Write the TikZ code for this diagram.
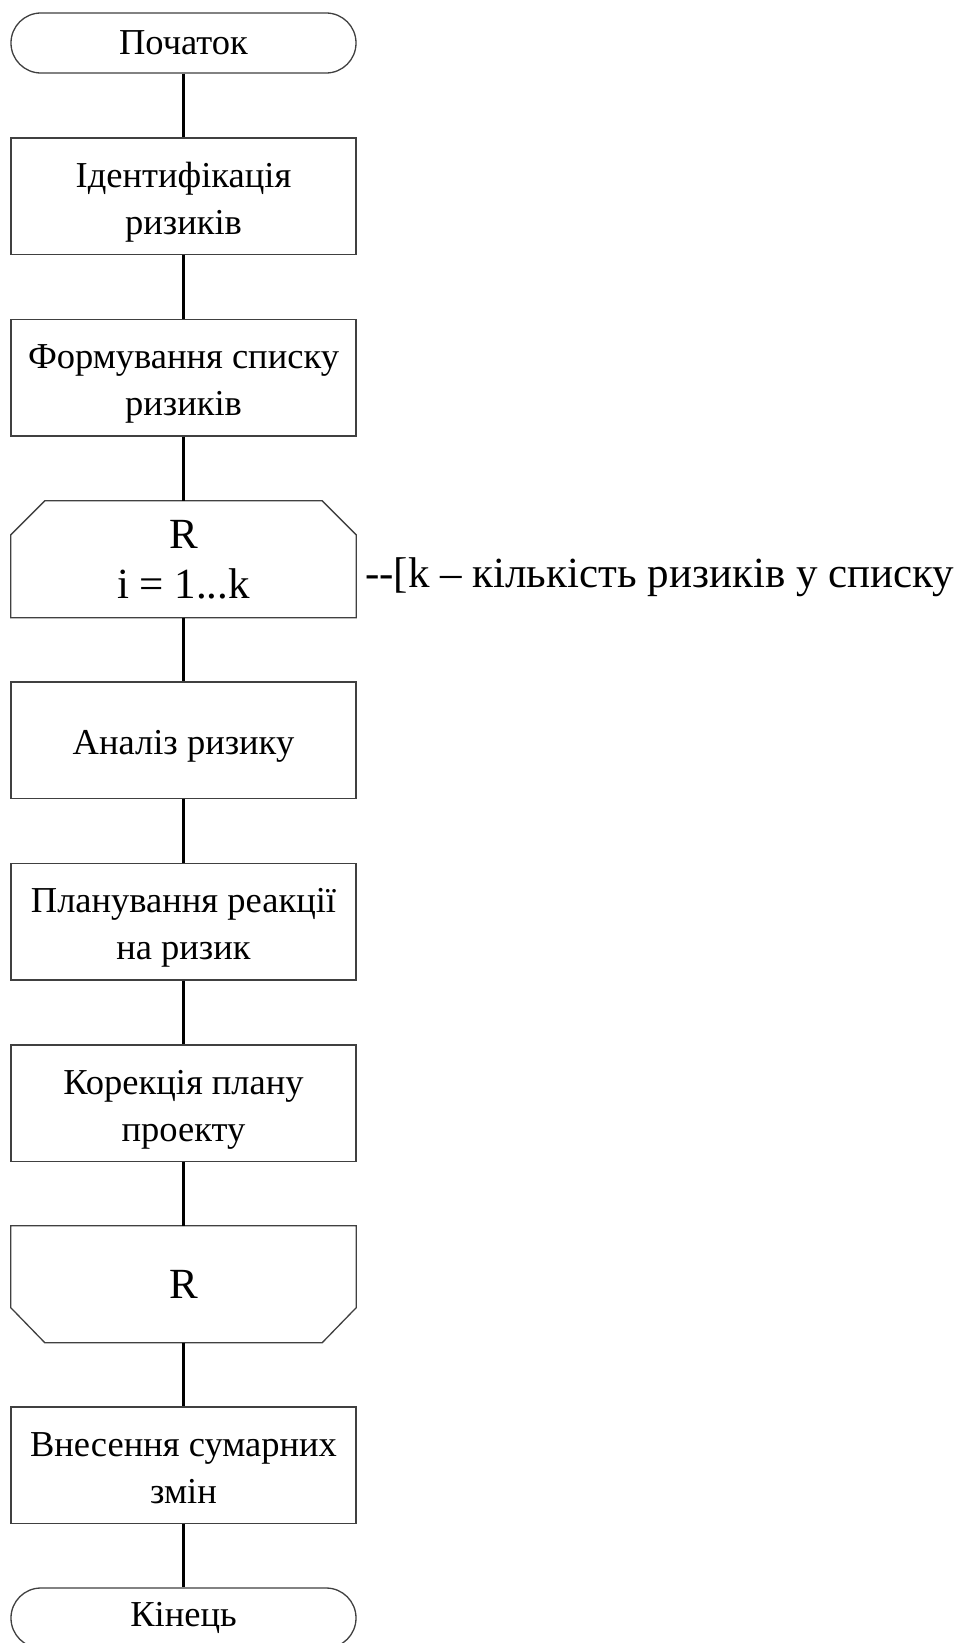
\documentclass[tikz,border=0pt]{standalone}
\usepackage{fontspec}
\setmainfont{Liberation Serif}
\begin{document}
\begin{tikzpicture}[x=1pt,y=-1pt,
  shapeline/.style={draw=black!75, line width=1.3pt},
  boxst/.style={shapeline, rectangle, minimum width=345pt, minimum height=116.5pt, inner sep=0pt, align=center, font=\fontsize{36.5}{47}\selectfont,
    execute at begin node={\rule{0pt}{38pt}}, execute at end node={\rule[-10pt]{0pt}{10pt}}},
  twoline/.style={execute at begin node={\rule{0pt}{86pt}}},
  hexst/.style={rectangle, minimum width=345pt, minimum height=116.5pt, inner sep=0pt, align=center, font=\fontsize{43}{50}\selectfont},
  termst/.style={shapeline, rectangle, rounded corners=29.9pt, minimum width=345pt, minimum height=60pt, inner sep=0pt, font=\fontsize{36.5}{44}\selectfont},
  conn/.style={line width=3pt, black}
]
\useasboundingbox (0,0) rectangle (953,1643);
\fill[white] (0,0) rectangle (953,1643);

\node[termst] (start) at (183.5,43) {Початок};
\node[boxst,twoline] (b1) at (183.5,196.25) {Ідентифікація\\ризиків};
\node[boxst,twoline] (b2) at (183.5,377.75) {Формування списку\\ризиків};
\node[hexst] (h1) at (183.5,559.25) {R\\i = 1...k};
\node[boxst] (b3) at (183.5,740.25) {Аналіз ризику};
\node[boxst,twoline] (b4) at (183.5,921.75) {Планування реакції\\на ризик};
\node[boxst,twoline] (b5) at (183.5,1103.25) {Корекція плану\\проекту};
\node[hexst] (h2) at (183.5,1284.25) {R};
\node[boxst,twoline] (b6) at (183.5,1465.25) {Внесення сумарних\\змін};
\node[termst] (end) at (183.5,1618) {Кінець};

\draw[shapeline] ([yshift=-34pt]h1.north west) -- ([xshift=34pt]h1.north west)
  -- ([xshift=-34pt]h1.north east) -- ([yshift=-34pt]h1.north east)
  -- (h1.south east) -- (h1.south west) -- cycle;
\draw[shapeline] (h2.north west) -- (h2.north east) -- ([yshift=35pt]h2.south east)
  -- ([xshift=-34pt]h2.south east) -- ([xshift=34pt]h2.south west)
  -- ([yshift=35pt]h2.south west) -- cycle;

\node[anchor=base west, inner sep=0pt, font=\fontsize{43}{50}\selectfont] (note) at (365,587) {\mbox{-}\mbox{-}[k – кількість ризиків у списку};

\draw[conn] (start) -- (b1);
\draw[conn] (b1) -- (b2);
\draw[conn] (b2) -- (h1);
\draw[conn] (h1) -- (b3);
\draw[conn] (b3) -- (b4);
\draw[conn] (b4) -- (b5);
\draw[conn] (b5) -- (h2);
\draw[conn] (h2) -- (b6);
\draw[conn] (b6) -- (end);
\end{tikzpicture}
\end{document}
